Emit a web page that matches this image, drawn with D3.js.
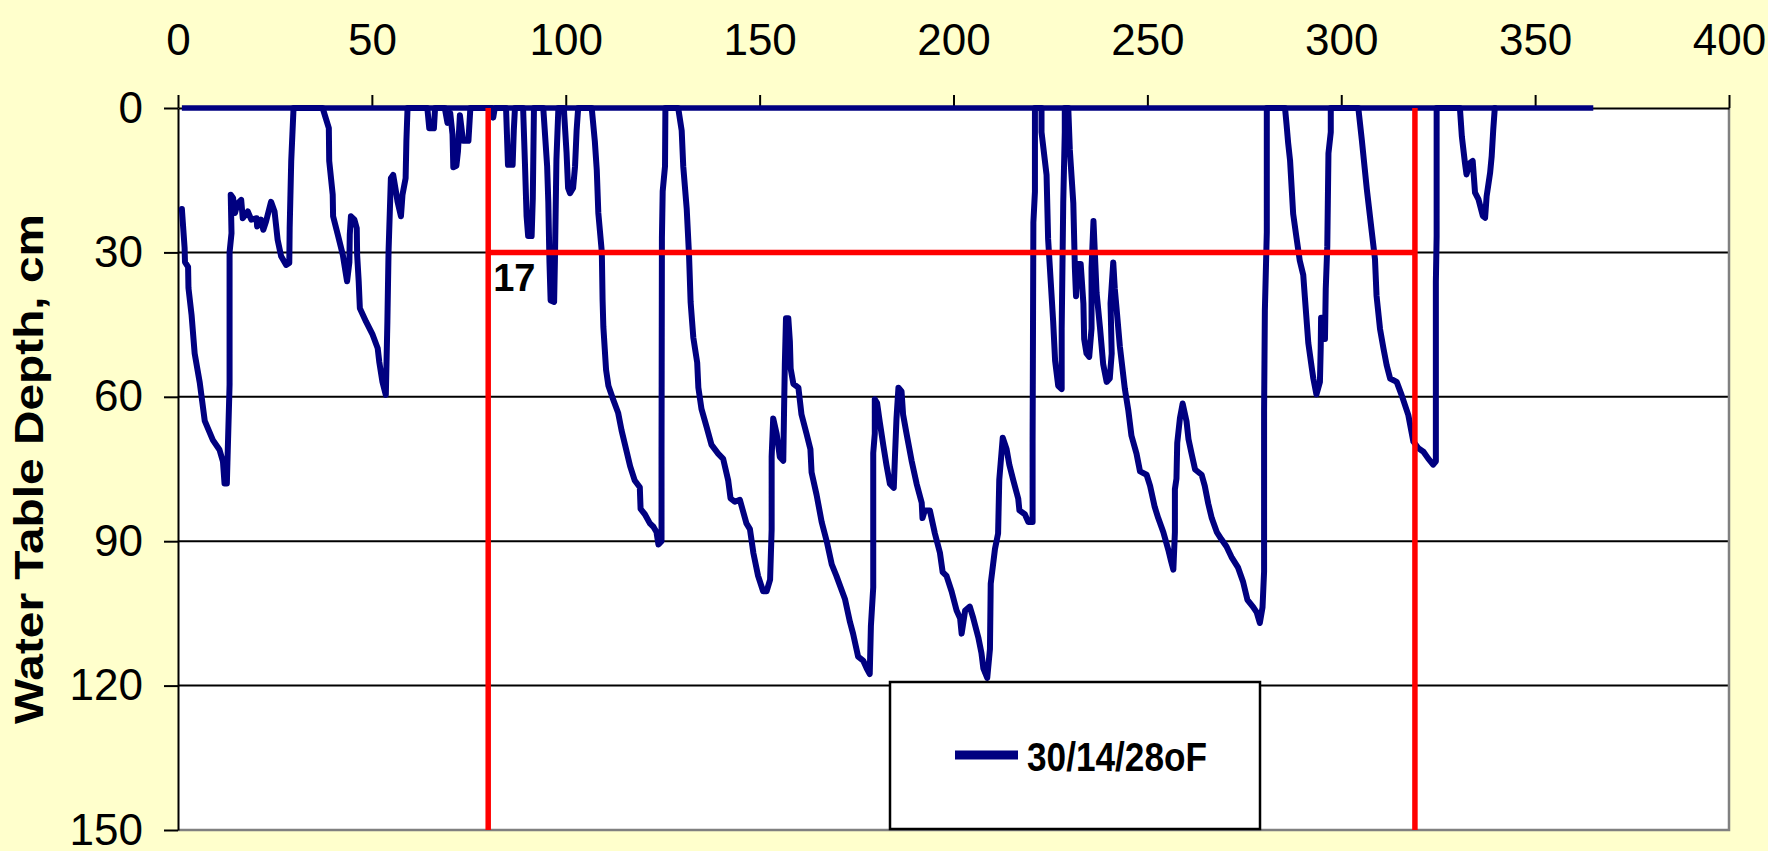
<!DOCTYPE html>
<html>
<head>
<meta charset="utf-8">
<script src="https://cdn.jsdelivr.net/npm/d3@7"></script>
<style>
	body { margin: 0; background: #ffffcc; }
	svg text { font-family: "Liberation Sans", Arial, sans-serif; }
</style>
</head>
<body>
<svg id="chart" width="1768" height="851"></svg>
<script>
// water table depth (cm), day of year
const days = [
	1, 1.7, 1.8, 2.6, 2.7, 3.5, 4.3, 5.6, 6.9, 9, 10.7, 11.6, 12, 12.6, 13.3, 13.3, 13.8, 13.6, 14.2, 14.7,
	15.4, 16.3, 16.7, 18, 18.9, 20.3, 20.4, 21.4, 22, 22.7, 24, 24.9, 25.7, 26.6, 27.9, 28.7, 28.8, 29.2, 29.8,
	37.3, 38.9, 39, 39.9, 40, 41.2, 42.5, 43.6, 44.2, 44.3, 44.6, 45.5, 46.1, 46.2, 46.6, 46.9, 48.5, 50.2,
	51.5, 51.9, 52.7, 53.6, 54, 54.3, 54.9, 55.5, 56.2, 56.6, 57.5, 57.9, 58.7, 58.9, 59.2,
	64.3, 64.8, 66, 66.3, 68.8, 69.5, 70.2, 70.8, 71, 71.8, 72.2, 72.7, 73.5, 74.9, 75.4,
	81, 81.3, 81.7, 84.6, 85.1, 86.3, 86.6, 86.9, 89, 89.5, 89.9, 90.3, 91.2, 91.5, 91.8,
	94.2, 95.2, 95.5, 95.8, 96.1, 97, 97.2, 97.6, 98.1, 99.5, 100.2, 100.6, 101.1, 101.9, 102.4, 102.8, 103.2,
	106.7, 107.5, 108, 108.4, 109.3, 109.5, 109.7, 110.4, 111, 112.3, 113.5, 114.4, 115.3, 116.6, 117.8,
	119.1, 119.3, 120.4, 121.7, 122.6, 123.4, 123.9, 124.7, 124.7, 124.8, 125, 125.6, 125.7,
	129, 129.9, 130.3, 131.2, 131.8, 132.2, 132.9, 133.9, 134.2, 135, 136.3, 137.6, 139.3, 140.6, 141.9,
	142.5, 143.6, 144.9, 146.6, 147.5, 148.4, 149.6, 150.9, 151.8, 152.7, 153.1, 153.1, 153.5, 154.4, 155.2,
	156.1, 156.3, 156.5, 156.8, 157.4, 157.8, 158, 158.7, 160, 160.8, 162.1, 163.1, 163.4, 164.7, 166,
	167.3, 168.6, 169.8, 172, 173.3, 174.1, 175.4, 176.7, 177.6, 178.4, 178.7, 179.3, 179.3, 179.7, 179.7,
	180.3, 181, 181.9, 182.7, 183.6, 184.6, 184.9, 185.3, 185.8, 186.6, 187, 187.9, 189.2, 190.5, 191.8,
	192, 192.6, 193.9, 195.2, 196.5, 197.2, 198.2, 199.5, 200.8, 201.7, 202.1, 203, 204.2, 205.1, 206.4,
	207.2, 207.7, 208.7, 209.4, 209.6, 210.7, 211.5, 211.8, 212.7, 213.7, 214.4, 215.4, 216.7, 217, 218.4,
	219.3, 220.4, 220.4, 220.6, 221, 221,
	222.7, 222.7, 224, 224.4, 225.7, 226.2, 227, 227.9, 227.9, 228.3, 228.7, 228.7,
	229.6, 230, 230.9, 231.3, 231.6, 231.9, 232.8, 233.5, 233.7, 234.3, 235, 235.6, 235.6, 236.1, 236.5,
	236.9, 237.8, 238.6, 239.5, 240.3, 240.8, 240.5, 241.2, 241.6, 242.1, 242.9, 244.2, 245.1, 245.9, 247.2,
	248.1, 249.8, 250.7, 251.9, 252.8, 254.1, 255.4, 256.1, 256.7, 257.1, 257.1, 257.5, 257.7, 258.4, 259.1,
	260.1, 260.6, 261.4, 262.3, 264, 264.8, 265.7, 266.6, 267.9, 269.1, 270.4, 271.7, 273.4, 274.7, 275.8,
	277.3, 278.2, 279, 279.7, 280.1, 280.1, 280.3, 280.8, 280.8,
	285.5, 285.9, 286.3, 286.8, 287.6, 288.5, 289.3, 290.2, 290.6, 291.5, 292.4, 292.8, 293.6, 294.5, 294.7,
	294.8, 295.7, 295.8, 296, 296.4, 296.7, 297.3, 297.3,
	304.4, 305.3, 306.6, 307.8, 308.7, 309.1, 310, 310.9, 311.7, 312.6, 314.3, 315.6, 317.3, 318.6, 319.9,
	321.2, 322.4, 323.7, 324.4, 324.4, 324.6, 324.6,
	330.6, 331.1, 331.9, 332.3, 333.2, 333.9, 334.5, 335.4, 336.5, 337.1, 337.5, 338.4, 338.8, 339.2, 339.6
];
const depth = [
	21, 29, 32, 33, 37.4, 43, 51, 57, 65, 69, 71, 73.5, 78, 78, 57.5, 30, 26, 18, 18.7, 21.8,
	19.8, 19.1, 22.9, 21.5, 23.2, 22.9, 24.6, 23.2, 25.3, 23.6, 19.5, 21.5, 27.4, 30.8, 32.6, 32.2, 25, 11, 0,
	0, 4.2, 11, 18, 22.5, 26.3, 30.5, 36, 32, 26.3, 22.5, 23.2, 25, 30.5, 36, 41.6, 44.4, 47.1,
	49.9, 52.7, 56.8, 59.6, 44.4, 29.8, 14.6, 13.9, 17.3, 19.4, 22.5, 18, 14.6, 6.9, 0,
	0, 4.2, 4.2, 0, 0, 3.1, 1, 5.5, 12.3, 12, 9, 1.5, 6.8, 6.8, 0,
	0, 2, 0, 0, 11.8, 11.8, 4.7, 0, 0, 12.1, 22.5, 26.6, 26.6, 18.8, 0,
	0, 12.1, 19.5, 32, 40, 40.3, 32, 10.6, 0, 0, 9.2, 16.6, 17.7, 16.6, 12.1, 4.7, 0,
	0, 6.9, 12.9, 21.8, 29.9, 39.9, 45.5, 54.4, 57.7, 60.7, 63.3, 67, 70, 74.4, 77.4,
	78.8, 83.3, 84.4, 86.3, 87, 88.1, 90.7, 90, 71.4, 27, 17.3, 12.1, 0,
	0, 4.7, 12.1, 21, 30.7, 40.3, 47.7, 52.9, 58.1, 62.5, 66.2, 70, 71.8, 72.9, 77.4,
	81.1, 81.8, 81.4, 86.3, 87.5, 92.5, 97.2, 100.4, 100.4, 98, 87.6, 72.5, 64.5, 67.7, 72.5,
	73.3, 62.9, 53.3, 43.7, 43.7, 48.5, 54.1, 57.3, 58.1, 63.7, 67.7, 70.9, 75.7, 80.4, 86,
	90, 94.8, 97.2, 102, 106.8, 109.2, 114, 114.8, 116.4, 117.6, 107.6, 99.6, 71.7, 67.7, 60.5,
	61.3, 65.3, 70.1, 74.1, 78.1, 78.9, 72.5, 64.5, 58.1, 58.9, 63.7, 67.7, 73.3, 78.1, 82,
	85.2, 83.6, 83.6, 88.4, 92.4, 96.4, 97.2, 100.4, 104.4, 106, 109.2, 104.4, 103.6, 106, 110,
	113.2, 116.4, 118.4, 112.4, 98.8, 91.6, 88.4, 77.3, 68.5, 70.9, 74.1, 77.3, 81.2, 83.6, 84.4,
	86, 86, 69.3, 23.8, 17.4, 0,
	0, 5, 13.9, 27.2, 44.3, 52.5, 57.7, 58.4, 45.8, 19.8, 5, 0,
	0, 8.7, 19.8, 33.2, 39.1, 32.4, 32.4, 40.6, 48, 51, 51.7, 45.8, 33.2, 23.5, 31,
	38.4, 45.8, 53.2, 56.9, 56.2, 51, 40.6, 32.1, 37.6, 42.1, 49.5, 58.4, 62.9, 68.1, 71.8,
	75.5, 76.2, 78.5, 82.9, 85.2, 88.1, 91.8, 94.1, 95.9, 88.1, 79.2, 77, 69.6, 64.4, 61.4,
	65.1, 68.8, 71.8, 75.1, 76.2, 78.5, 82.2, 85.2, 88.1, 89.6, 91.1, 93.3, 95.5, 98.5, 102.2,
	103.7, 104.8, 107, 103.7, 96.3, 62.9, 42.1, 25.8, 0,
	0, 3.5, 7.2, 10.9, 22, 27.2, 31.7, 34.7, 39.1, 48.8, 54, 56.2, 59.5, 56.9, 50,
	43.6, 43.6, 48, 37.6, 28.7, 9.4, 5, 0,
	0, 6.6, 16.9, 25.2, 31.4, 39, 45.9, 50, 53.4, 56.2, 56.9, 59.7, 63.8, 69.3, 70.7,
	71.4, 72.8, 74.1, 73.4, 36.2, 26.6, 0,
	0, 5.9, 11.4, 13.8, 11.4, 11, 17.6, 19, 22.4, 22.8, 18.3, 13.4, 10, 4.5, 0
];
// water table at the surface over the whole record
const surfaceDays = [1, 365];
const surfaceDepth = [0, 0];
// red reference box and its label
const refDays = [80, 319];
const refDepth = 30;
const refLabel = "17";
const seriesName = "30/14/28oF";
const xTicks = [0, 50, 100, 150, 200, 250, 300, 350, 400];
const yTicks = [0, 30, 60, 90, 120, 150];

const ctx = { width: 1768, height: 851, left: 178, right: 1729, top: 108, bottom: 830 };
const navy = "#000080";

let svg = d3.select("#chart");

svg.append("rect")
	.attr("width", ctx.width)
	.attr("height", ctx.height)
	.attr("fill", "#ffffcc");

xscale = d3.scaleLinear().domain([0, 400]).range([ctx.left, ctx.right]);
yscale = d3.scaleLinear().domain([0, 150]).range([ctx.top, ctx.bottom]);

// plot area
svg.append("rect")
	.attr("x", ctx.left)
	.attr("y", ctx.top)
	.attr("width", ctx.right - ctx.left)
	.attr("height", ctx.bottom - ctx.top)
	.attr("fill", "white");

// horizontal gridlines
svg.append("g")
	.selectAll("line")
	.data(yTicks.filter((d) => d > 0 && d < 150))
	.join("line")
	.attr("x1", ctx.left)
	.attr("x2", ctx.right)
	.attr("y1", (d) => yscale(d))
	.attr("y2", (d) => yscale(d))
	.attr("stroke", "black")
	.attr("stroke-width", 2);

// grey right and bottom frame
svg.append("path")
	.attr("d", `M${ctx.right},${ctx.top}V${ctx.bottom}H${ctx.left}`)
	.attr("fill", "none")
	.attr("stroke", "#808080")
	.attr("stroke-width", 2.5);

// axes
let xAxis = svg.append("g")
	.attr("transform", `translate(0,${ctx.top})`)
	.call(d3.axisTop(xscale).tickValues(xTicks).tickSize(13).tickSizeOuter(0).tickPadding(40));
let yAxis = svg.append("g")
	.attr("transform", `translate(${ctx.left},0)`)
	.call(d3.axisLeft(yscale).tickValues(yTicks).tickSize(14).tickSizeOuter(0).tickPadding(21));

svg.selectAll(".domain, .tick line").attr("stroke", "black").attr("stroke-width", 2);
svg.selectAll(".tick text")
	.attr("fill", "black")
	.style("font-size", "44px");

// series
let line = d3.line()
	.x((d) => xscale(d[0]))
	.y((d) => yscale(d[1]));

svg.append("path")
	.datum(days.map((d, i) => [d, depth[i]]))
	.attr("d", line)
	.attr("fill", "none")
	.attr("stroke", navy)
	.attr("stroke-width", 6)
	.attr("stroke-linejoin", "round")
	.attr("stroke-linecap", "round");

svg.append("path")
	.datum(surfaceDays.map((d, i) => [d, surfaceDepth[i]]))
	.attr("d", line)
	.attr("fill", "none")
	.attr("stroke", navy)
	.attr("stroke-width", 5.5);

// red reference lines
let red = svg.append("g").attr("stroke", "#ff0000").attr("stroke-width", 5.5);
red.selectAll("line.v")
	.data(refDays)
	.join("line")
	.attr("class", "v")
	.attr("x1", (d) => xscale(d))
	.attr("x2", (d) => xscale(d))
	.attr("y1", yscale(0))
	.attr("y2", yscale(150));
red.append("line")
	.attr("x1", xscale(refDays[0]))
	.attr("x2", xscale(refDays[1]))
	.attr("y1", yscale(refDepth))
	.attr("y2", yscale(refDepth));

svg.append("text")
	.attr("x", xscale(refDays[0]) + 5)
	.attr("y", yscale(refDepth) + 39)
	.text(refLabel)
	.style("font-size", "38px")
	.style("font-weight", "bold")
	.attr("fill", "black");

// legend
let legend = svg.append("g").attr("class", "legend");
legend.append("rect")
	.attr("x", 890)
	.attr("y", 682)
	.attr("width", 370)
	.attr("height", 147)
	.attr("fill", "white")
	.attr("stroke", "black")
	.attr("stroke-width", 2.5);
legend.append("line")
	.attr("x1", 955)
	.attr("x2", 1018)
	.attr("y1", 755)
	.attr("y2", 755)
	.attr("stroke", navy)
	.attr("stroke-width", 9);
legend.append("text")
	.attr("x", 1027)
	.attr("y", 771)
	.text(seriesName)
	.attr("textLength", 180)
	.attr("lengthAdjust", "spacingAndGlyphs")
	.style("font-size", "40px")
	.style("font-weight", "bold")
	.attr("fill", "black");

// y title
svg.append("text")
	.attr("transform", `translate(43,${(ctx.top + ctx.bottom) / 2}) rotate(-90)`)
	.attr("text-anchor", "middle")
	.attr("textLength", 510)
	.attr("lengthAdjust", "spacingAndGlyphs")
	.text("Water Table Depth, cm")
	.style("font-size", "40px")
	.style("font-weight", "bold")
	.attr("fill", "black");
</script>
</body>
</html>
